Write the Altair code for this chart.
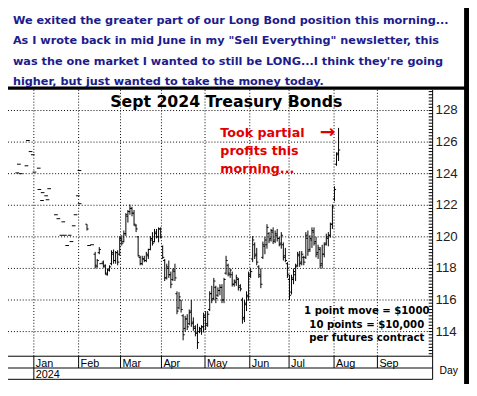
import altair as alt
import pandas as pd

# ---------------- data ----------------
# trading-day index (0 = first session of January 2024)
bar_day = [26, 30, 31, 32] + list(range(34, 150))
bar_high = [120.8, 119.05, 118.6, 119.35, 118.5, 118.25, 118.0, 118.2, 119.15, 119.2,
            119.1, 119.15, 120.05, 120.1, 120.4, 121.5, 121.7, 122.05, 121.9, 121.7,
            120.8, 120.05, 118.8, 118.8, 118.8, 119.05, 119.25, 120.05, 120.3, 120.5,
            120.5, 120.6, 120.6, 119.45, 118.6, 118.3, 118.5, 117.8, 118.0, 118.3,
            116.55, 116.5, 116.0, 115.1, 115.0, 115.1, 115.4, 116.0, 114.9, 114.4,
            114.5, 114.3, 114.4, 115.2, 115.3, 115.3, 116.55, 116.9, 117.4, 116.9,
            116.8, 117.0, 117.0, 117.4, 118.8, 118.3, 118.0, 117.8, 117.3, 117.6,
            117.4, 117.0, 116.15, 116.0, 116.55, 117.8, 118.0, 120.05, 119.65, 119.3,
            118.2, 118.0, 119.7, 120.0, 120.8, 120.3, 120.5, 120.6, 120.4, 120.5,
            120.0, 120.3, 119.65, 119.3, 118.4, 117.6, 117.6, 118.0, 118.3, 119.05,
            119.1, 119.1, 118.8, 120.3, 120.4, 120.1, 120.6, 120.6, 120.0, 119.5,
            119.35, 119.5, 119.65, 120.2, 120.3, 120.9, 122.05, 123.2, 125.35, 126.9]
bar_low = [120.4, 118.0, 118.05, 118.9, 118.05, 117.6, 117.55, 117.8, 118.2, 118.3,
           118.3, 118.2, 118.8, 119.45, 119.65, 120.05, 120.9, 121.4, 121.3, 120.7,
           120.3, 118.75, 118.2, 118.2, 118.4, 118.4, 118.6, 119.15, 119.45, 119.65,
           119.9, 119.65, 119.9, 118.6, 117.2, 117.3, 117.4, 116.75, 117.2, 117.2,
           115.1, 115.4, 115.2, 113.45, 114.0, 114.1, 114.4, 114.3, 114.05, 113.7,
           112.9, 113.9, 113.8, 113.95, 114.1, 114.3, 115.3, 115.8, 116.0, 115.8,
           116.2, 116.3, 115.8, 115.8, 117.6, 117.5, 117.4, 116.85, 116.85, 116.9,
           116.6, 116.55, 114.5, 114.6, 115.3, 115.95, 117.4, 118.4, 118.6, 118.2,
           117.4, 116.75, 118.6, 118.9, 119.25, 119.6, 119.7, 119.55, 119.6, 119.7,
           119.4, 119.25, 118.5, 118.4, 117.4, 116.0, 116.35, 117.0, 117.2, 118.1,
           118.1, 118.2, 118.2, 118.6, 118.8, 119.05, 119.3, 119.45, 118.7, 118.6,
           118.0, 118.0, 118.7, 119.45, 119.4, 119.95, 120.5, 122.25, 124.5, 124.8]
bar_open = [120.8, 118.9, 118.1, 119.0, 118.4, 118.2, 117.6, 117.9, 118.3, 118.9,
            118.5, 119.0, 118.9, 119.8, 119.7, 120.2, 121.3, 121.6, 121.8, 121.5,
            120.7, 120.0, 118.7, 118.3, 118.6, 118.5, 118.8, 119.2, 119.8, 119.7,
            120.2, 120.0, 120.5, 119.4, 118.5, 117.4, 118.0, 117.6, 117.3, 117.8,
            116.4, 115.5, 116.0, 115.0, 114.2, 114.8, 114.5, 115.3, 114.6, 114.2,
            113.9, 114.0, 114.1, 114.3, 114.9, 114.5, 115.4, 116.4, 116.1, 116.8,
            116.3, 116.6, 116.8, 116.0, 117.7, 118.2, 117.6, 117.6, 117.0, 117.1,
            117.3, 116.9, 116.0, 114.9, 115.7, 116.2, 117.5, 118.6, 119.5, 118.9,
            118.1, 117.5, 118.7, 119.4, 119.5, 120.2, 119.9, 120.3, 119.8, 120.1,
            119.9, 119.6, 119.5, 118.8, 118.3, 117.3, 116.5, 117.3, 117.6, 118.2,
            118.8, 118.4, 118.7, 118.7, 119.9, 119.2, 119.8, 120.3, 119.7, 119.0,
            119.2, 118.3, 118.9, 119.6, 119.9, 120.1, 120.8, 122.4, 124.6, 125.3]
bar_close = [120.5, 118.2, 118.5, 119.2, 118.1, 117.7, 117.9, 118.1, 119.0, 118.5,
             119.0, 118.4, 119.9, 119.6, 120.2, 121.4, 121.6, 121.8, 121.5, 120.8,
             120.5, 118.8, 118.3, 118.6, 118.5, 118.9, 119.2, 119.9, 119.6, 120.3,
             120.0, 120.5, 120.0, 118.7, 117.4, 118.1, 117.6, 117.0, 117.9, 117.4,
             115.3, 116.2, 115.4, 113.8, 114.8, 114.3, 115.2, 114.5, 114.3, 113.9,
             113.3, 114.2, 114.3, 115.0, 114.4, 115.1, 116.4, 116.0, 117.2, 116.1,
             116.6, 116.8, 116.0, 117.3, 118.5, 117.7, 117.9, 117.0, 117.2, 117.4,
             116.8, 116.7, 114.8, 115.8, 116.3, 117.6, 117.8, 119.8, 118.8, 118.4,
             117.6, 117.0, 119.5, 119.8, 120.6, 119.8, 120.4, 119.7, 120.2, 119.9,
             119.5, 120.1, 118.7, 118.5, 117.6, 116.3, 117.4, 117.8, 118.1, 118.9,
             118.3, 118.9, 118.4, 120.1, 119.1, 119.9, 120.4, 119.6, 118.9, 119.3,
             118.2, 118.9, 119.5, 120.0, 120.1, 120.8, 121.9, 123.0, 125.2, 125.5]

# thin early sessions, drawn as single dashes
dash_day = [-8.1, -7.3, -6.4, -3.6, -2.9, -1.6, -0.5, 0.3, 2.4, 2.7, 4.0, 4.3, 6.0, 6.7,
            7.5, 10.8, 12.0, 13.5, 14.4, 15.2, 16.3, 17.5, 18.4, 19.5, 20.4, 21.5, 22.3,
            22.4, 27.0, 28.5, 33.0]
dash_price = [124.05, 124.6, 124.0, 124.5, 126.1, 125.4, 125.2, 124.1, 124.35, 123.0,
              122.3, 122.8, 122.6, 122.35, 123.05, 121.4, 121.15, 120.1, 120.95, 120.1,
              119.45, 120.1, 119.7, 120.7, 121.4, 122.6, 124.2, 122.1, 119.45, 119.5, 118.3]

month_names = ["Jan", "Feb", "Mar", "Apr", "May", "Jun", "Jul", "Aug", "Sep"]
month_start = [0, 21.9, 42.4, 62.4, 83.7, 105.6, 124.8, 146.8, 168.0]
year_names = ["2024"]
year_start = [0]

y_labels = [114, 116, 118, 120, 122, 124, 126, 128]
y_minor = [round(112.6 + 0.2 * i, 1) for i in range(84)]

note_lines = [
    "We exited the greater part of our Long Bond position this morning...",
    "As I wrote back in mid June in my \"Sell Everything\" newsletter, this",
    "was the one market I wanted to still be LONG...I think they're going",
    "higher, but just wanted to take the money today.",
]
title_text = "Sept 2024 Treasury Bonds"
red_lines = ["Took partial", "profits this", "morning..."]
contract_lines = ["1 point move = $1000", "10 points = $10,000", "per futures contract"]

# ---------------- layout ----------------
W, H = 432, 271
xs = alt.Scale(domain=[-12.63, 195.0], nice=False, zero=False)
ys = alt.Scale(domain=[112.44, 129.31], nice=False, zero=False)
BOLD = "DejaVu Sans"

bars = pd.DataFrame({"day": bar_day, "open": bar_open, "high": bar_high,
                     "low": bar_low, "close": bar_close})
dashes = pd.DataFrame({"day": dash_day, "price": dash_price})
months = pd.DataFrame({"pos": month_start, "name": month_names})
years = pd.DataFrame({"pos": year_start, "name": year_names})
ygrid = pd.DataFrame({"v": y_labels})
yminor = pd.DataFrame({"v": y_minor})
one = pd.DataFrame({"k": [0]})

dotted = dict(color="black", strokeWidth=1, strokeDash=[1, 2])

hgrid = alt.Chart(ygrid).mark_rule(**dotted).encode(
    y=alt.Y("v:Q", scale=ys, axis=None), x=alt.value(0), x2=alt.value(W))
ytext = alt.Chart(ygrid).mark_text(
    align="left", baseline="middle", font="Liberation Sans", fontSize=13.5,
    color="#222").encode(
    y=alt.Y("v:Q", scale=ys, axis=None), x=alt.value(W + 3), text="v:Q")
vgrid = alt.Chart(months).mark_rule(**dotted).encode(
    x=alt.X("pos:Q", scale=xs, axis=None), y=alt.value(0), y2=alt.value(H))

hl = alt.Chart(bars).mark_rule(color="black", strokeWidth=1).encode(
    x=alt.X("day:Q", scale=xs, axis=None),
    y=alt.Y("low:Q", scale=ys, axis=None), y2="high:Q")
op = alt.Chart(bars).transform_calculate(d0="datum.day - 0.8").mark_rule(
    color="black", strokeWidth=1).encode(
    x=alt.X("d0:Q", scale=xs, axis=None), x2="day:Q",
    y=alt.Y("open:Q", scale=ys, axis=None))
cl = alt.Chart(bars).transform_calculate(d1="datum.day + 0.8").mark_rule(
    color="black", strokeWidth=1).encode(
    x=alt.X("day:Q", scale=xs, axis=None), x2="d1:Q",
    y=alt.Y("close:Q", scale=ys, axis=None))
dsh = alt.Chart(dashes).transform_calculate(
    a="datum.day - 0.9", b="datum.day + 0.9").mark_rule(
    color="black", strokeWidth=1).encode(
    x=alt.X("a:Q", scale=xs, axis=None), x2="b:Q",
    y=alt.Y("price:Q", scale=ys, axis=None))

minor = alt.Chart(yminor).mark_rule(color="black", strokeWidth=1).encode(
    y=alt.Y("v:Q", scale=ys, axis=None), x=alt.value(W - 4), x2=alt.value(W))

mticks = alt.Chart(months).mark_rule(color="black", strokeWidth=1).encode(
    x=alt.X("pos:Q", scale=xs, axis=None), y=alt.value(H), y2=alt.value(H + 12))
mlabels = alt.Chart(months).mark_text(
    align="left", baseline="alphabetic", dx=2, font="Liberation Sans",
    fontSize=11, color="black").encode(
    x=alt.X("pos:Q", scale=xs, axis=None), y=alt.value(H + 10.5), text="name:N")
yticks = alt.Chart(years).mark_rule(color="black", strokeWidth=1).encode(
    x=alt.X("pos:Q", scale=xs, axis=None), y=alt.value(H + 12), y2=alt.value(H + 24))
ylabels = alt.Chart(years).mark_text(
    align="left", baseline="alphabetic", dx=2, font="Liberation Sans",
    fontSize=11, color="black").encode(
    x=alt.X("pos:Q", scale=xs, axis=None), y=alt.value(H + 22), text="name:N")

def line(x1, x2, y1, y2):
    return alt.Chart(one).mark_rule(color="black", strokeWidth=1).encode(
        x=alt.value(x1), x2=alt.value(x2), y=alt.value(y1), y2=alt.value(y2))

xaxis_line = line(0, W, H, H)
row_line = line(0, W, H + 12, H + 12)
bottom_line = line(0, W, H + 23.5, H + 23.5)
yaxis_line = line(W, W, 0, H + 23.5)

band = alt.Chart(one).mark_rect(color="black").encode(
    x=alt.value(0), x2=alt.value(480), y=alt.value(-3.4), y2=alt.value(0))
right_border = alt.Chart(one).mark_rect(color="black").encode(
    x=alt.value(464), x2=alt.value(480), y=alt.value(-90), y2=alt.value(310))

note = alt.Chart(one).mark_text(
    text=note_lines, align="left", baseline="alphabetic", font=BOLD,
    fontWeight="bold", fontSize=11.45, lineHeight=20.7, color="#1c1c8c").encode(
    x=alt.value(5), y=alt.value(-67))
title = alt.Chart(one).mark_text(
    text=title_text, align="center", baseline="alphabetic", font=BOLD,
    fontWeight="bold", fontSize=16, color="black").encode(
    x=alt.value(222), y=alt.value(17.5))
red = alt.Chart(one).mark_text(
    text=red_lines, align="left", baseline="alphabetic", font=BOLD,
    fontWeight="bold", fontSize=12.9, lineHeight=18.5, color="#e00000").encode(
    x=alt.value(216), y=alt.value(47.5))
arrow = alt.Chart(one).mark_text(
    text="\u2192", align="center", baseline="middle", font=BOLD,
    fontWeight="bold", fontSize=19, color="#e00000").encode(
    x=alt.value(325), y=alt.value(42.7))
contract = alt.Chart(one).mark_text(
    text=contract_lines, align="center", baseline="alphabetic", font=BOLD,
    fontWeight="bold", fontSize=10.3, lineHeight=14, color="black").encode(
    x=alt.value(365), y=alt.value(228))
day_lbl = alt.Chart(one).mark_text(
    text="Day", align="left", baseline="alphabetic", font="Liberation Sans",
    fontSize=10.5, color="black").encode(x=alt.value(439), y=alt.value(289.5))

chart = alt.layer(
    hgrid, vgrid, minor, dsh, hl, op, cl,
    xaxis_line, row_line, bottom_line, yaxis_line, ytext,
    mticks, mlabels, yticks, ylabels,
    band, right_border, note, title, red, arrow, contract, day_lbl,
).properties(
    width=W, height=H,
    padding={"left": 0, "top": 80, "right": 37, "bottom": 25},
    autosize=alt.AutoSizeParams(type="none"),
    background="white",
).configure_view(stroke=None)

chart.save("out.html", embed_options={"renderer": "svg", "actions": False})
